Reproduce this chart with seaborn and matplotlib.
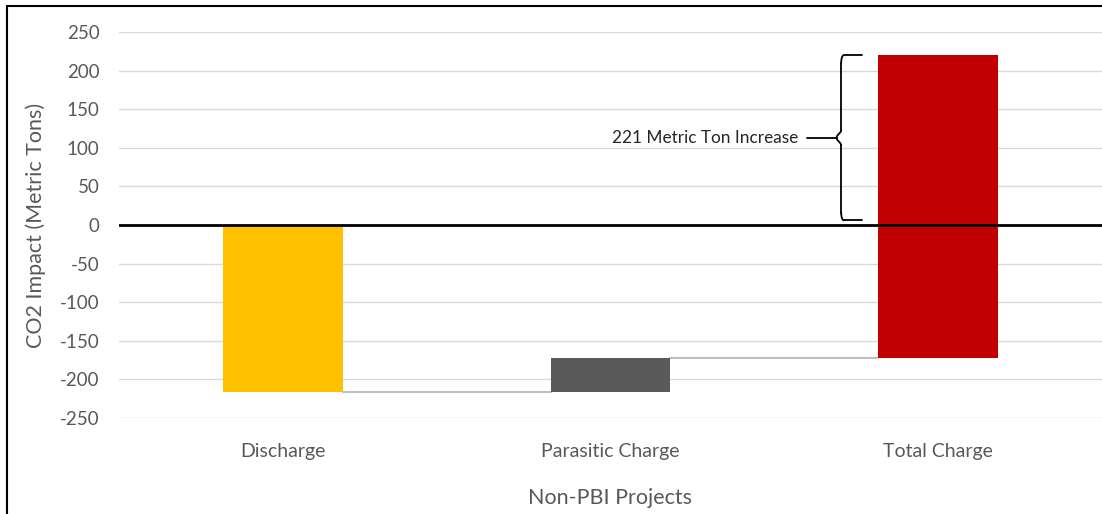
import numpy as np
import pandas as pd
import matplotlib
matplotlib.use("Agg")
import matplotlib.pyplot as plt
from matplotlib.lines import Line2D
import seaborn as sns

categories = ["Discharge", "Parasitic Charge", "Total Charge"]
bar_bottoms = [0, -216, -172]
bar_tops = [-216, -172, 220]
bar_colors = ["#FFC000", "#595959", "#C00000"]
y_ticks = [250, 200, 150, 100, 50, 0, -50, -100, -150, -200, -250]
annotation_text = "221 Metric Ton Increase"

sns.set_theme(style="white")
plt.rcParams["font.family"] = ["Lato", "DejaVu Sans"]

df = pd.DataFrame({
    "cat": categories,
    "height": np.array(bar_tops) - np.array(bar_bottoms),
    "bottom": bar_bottoms,
})

fig = plt.figure(figsize=(11.02, 5.14), dpi=100)
ax = fig.add_axes([119 / 1102, (514 - 418) / 514, (1102 - 119) / 1102, 386 / 514])

bw = 0.366
sns.barplot(data=df, x="cat", y="height", bottom=df["bottom"].values, order=categories,
            color=bar_colors[0], errorbar=None, width=bw, ax=ax, zorder=2,
            linewidth=0, saturation=1)
for p, c in zip(ax.patches, bar_colors):
    p.set_facecolor(c)

# connectors
for i in range(len(categories) - 1):
    ax.plot([i + bw / 2, i + 1 - bw / 2], [bar_tops[i], bar_tops[i]],
            color="#BFBFBF", lw=1.5, zorder=1.5)

ax.set_xlim(-0.5, 2.5)
ax.set_ylim(-250, 250)
ax.set_yticks(y_ticks)
ax.set_yticklabels([str(t) for t in y_ticks])
ax.yaxis.grid(True, color="#D9D9D9", lw=1)
ax.set_axisbelow(True)
ax.axhline(0, color="black", lw=2, zorder=3)
for s in ax.spines.values():
    s.set_visible(False)
ax.tick_params(axis="both", length=0, labelcolor="#595959")
ax.tick_params(axis="y", labelsize=13.5, pad=14)
ax.tick_params(axis="x", labelsize=14, pad=18)
ax.set_xlabel("Non-PBI Projects", fontsize=15.5, color="#595959", labelpad=20)
ax.set_ylabel("CO2 Impact (Metric Tons)", fontsize=15.5, color="#595959", labelpad=10)

# brace annotation
total = bar_tops[2]
y0, y1 = 6, total
ym = (y0 + y1) / 2
xv = 1.704
xh = 1.768
xt = 1.690
r = 10
ax.plot([xh, xv + 0.008], [y1, y1], color="black", lw=1.3, zorder=4)
t = np.linspace(0, 1, 30)
ax.plot(xv + 0.008 * (1 - np.sin(t * np.pi / 2)), y1 - r * (1 - np.cos(t * np.pi / 2)), color="black", lw=1.3, zorder=4)
ax.plot([xv, xv], [y1 - r, ym + r], color="black", lw=1.3, zorder=4)
ax.plot(xv - (xv - xt) * np.sin(t * np.pi / 2) ** 2, ym + r * (1 - t), color="black", lw=1.3, zorder=4)
ax.plot(xv - (xv - xt) * np.sin(t * np.pi / 2) ** 2, ym - r * (1 - t), color="black", lw=1.3, zorder=4)
ax.plot([xv, xv], [ym - r, y0 + r], color="black", lw=1.3, zorder=4)
ax.plot(xv + 0.008 * (1 - np.sin(t * np.pi / 2)), y0 + r * (1 - np.cos(t * np.pi / 2)), color="black", lw=1.3, zorder=4)
ax.plot([xh, xv + 0.008], [y0, y0], color="black", lw=1.3, zorder=4)
ax.plot([1.600, xt], [ym, ym], color="black", lw=1.3, zorder=4)
ax.text(1.572, ym, annotation_text, ha="right", va="center", fontsize=12.4, color="#262626")

# outer frame
fig.add_artist(Line2D([7 / 1102, 7 / 1102], [0, (514 - 6) / 514], transform=fig.transFigure, color="black", lw=1.5))
fig.add_artist(Line2D([7 / 1102, 1], [(514 - 6) / 514, (514 - 6) / 514], transform=fig.transFigure, color="black", lw=1.5))

fig.savefig("out.png", dpi=100)
